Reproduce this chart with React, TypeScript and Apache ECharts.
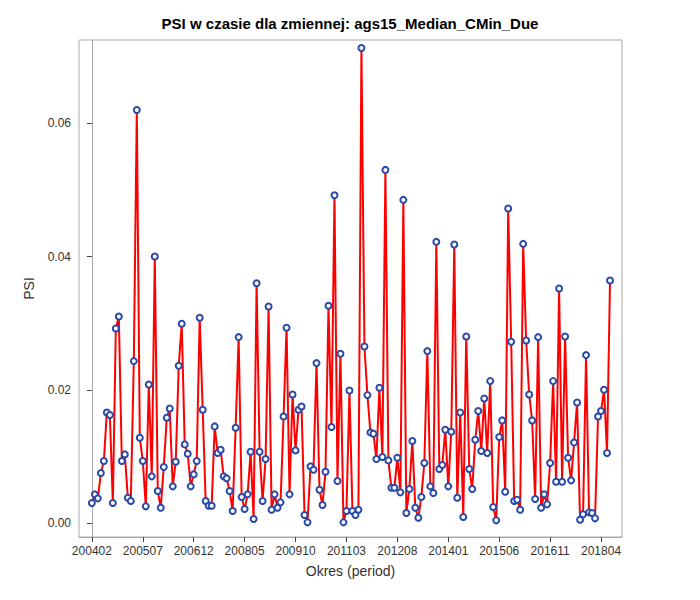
import React, { useRef, useEffect } from 'react';
import * as echarts from 'echarts';

const psi: number[] = [
  0.003, 0.0043, 0.0037, 0.0075, 0.0093, 0.0166, 0.0162, 0.003, 0.0292, 0.031,
  0.0093, 0.0103, 0.0038, 0.0033, 0.0243, 0.062, 0.0128, 0.0093, 0.0025, 0.0208,
  0.007, 0.04, 0.0048, 0.0023, 0.0084, 0.0158, 0.0172, 0.0055, 0.0092, 0.0236,
  0.0299, 0.0118, 0.0104, 0.0055, 0.0073, 0.0093, 0.0308, 0.017, 0.0033, 0.0026,
  0.0026, 0.0145, 0.0105, 0.011, 0.007, 0.0067, 0.0048, 0.0018, 0.0143, 0.0279,
  0.0039, 0.0021, 0.0043, 0.0107, 0.0006, 0.036, 0.0107, 0.0033, 0.0096, 0.0325,
  0.002, 0.0043, 0.0023, 0.0031, 0.016, 0.0293, 0.0043, 0.0193, 0.0109, 0.017,
  0.0175, 0.0012, 0.0001, 0.0085, 0.008, 0.024, 0.005, 0.0027, 0.0077, 0.0326,
  0.0144, 0.0492, 0.0063, 0.0254, 0.0001, 0.0018, 0.0199, 0.0018, 0.0012, 0.002,
  0.0713, 0.0265, 0.0192, 0.0136, 0.0134, 0.0096, 0.0203, 0.0099, 0.053, 0.0094,
  0.0053, 0.0053, 0.0098, 0.0046, 0.0485, 0.0015, 0.0051, 0.0123, 0.0023, 0.0008,
  0.0039, 0.009, 0.0258, 0.0055, 0.0045, 0.0422, 0.0081, 0.0087, 0.014, 0.0055,
  0.0137, 0.0418, 0.0038, 0.0166, 0.0009, 0.028, 0.0081, 0.0051, 0.0125, 0.0168,
  0.0108, 0.0187, 0.0105, 0.0213, 0.0024, 0.0004, 0.0129, 0.0154, 0.0047, 0.0472,
  0.0272, 0.0033, 0.0035, 0.002, 0.0419, 0.0274, 0.0193, 0.0154, 0.0036, 0.0279,
  0.0023, 0.0043, 0.0028, 0.009, 0.0213, 0.0062, 0.0352, 0.0062, 0.028, 0.0098,
  0.0064, 0.0121, 0.0181, 0.0005, 0.0013, 0.0252, 0.0016, 0.0015, 0.0007, 0.016,
  0.0168, 0.02, 0.0105, 0.0364,
];

const startYear = 2004;
const startMonth = 2;
const periods: string[] = psi.map((_, i) => {
  const m = startMonth - 1 + i;
  const y = startYear + Math.floor(m / 12);
  return `${y}${String((m % 12) + 1).padStart(2, '0')}`;
});

const xTickIdx: number[] = [0, 17, 34, 51, 68, 85, 102, 119, 136, 153, 170];
const yTicks: number[] = [0, 0.02, 0.04, 0.06];

const font = '"Liberation Sans", Arial, sans-serif';

const App: React.FC = () => {
  const chartRef = useRef<HTMLDivElement>(null);
  useEffect(() => {
    let chart: echarts.ECharts | null = null;
    if (chartRef.current) {
      chart = echarts.init(chartRef.current, null, { renderer: 'svg' });
      const option: echarts.EChartsOption = {
        animation: false,
        backgroundColor: '#fff',
        title: {
          text: 'PSI w czasie dla zmiennej: ags15_Median_CMin_Due',
          left: 'center',
          top: 11,
          textStyle: { fontFamily: font, fontSize: 15, fontWeight: 'bold', color: '#000' },
        },
        grid: { left: 79, right: 78, top: 40, bottom: 63, show: true, borderColor: '#aaa', borderWidth: 1 },
        xAxis: {
          type: 'value',
          min: -4.3,
          max: psi.length - 1 + 4,
          name: 'Okres (period)',
          nameLocation: 'middle',
          nameGap: 27,
          nameTextStyle: { fontFamily: font, fontSize: 14, color: '#333' },
          splitLine: { show: false },
          axisLine: { onZero: false, lineStyle: { color: '#aaa' } },
          axisTick: { customValues: xTickIdx, length: 5, lineStyle: { color: '#444' } },
          axisLabel: {
            customValues: xTickIdx,
            formatter: (v: number) => periods[Math.round(v)] ?? '',
            fontFamily: font,
            fontSize: 12,
            color: '#333',
          },
        },
        yAxis: {
          type: 'value',
          min: -0.0021,
          max: 0.0725,
          name: 'PSI',
          nameLocation: 'middle',
          nameGap: 43,
          nameTextStyle: { fontFamily: font, fontSize: 14, color: '#333' },
          splitLine: { show: false },
          axisLine: { show: true, lineStyle: { color: '#aaa' } },
          axisTick: { show: true, customValues: yTicks, length: 5, lineStyle: { color: '#444' } },
          axisLabel: {
            customValues: yTicks,
            formatter: (v: number) => v.toFixed(2),
            fontFamily: font,
            fontSize: 12,
            color: '#333',
          },
        },
        series: [
          {
            type: 'line',
            data: psi.map((v, i) => [i, v]),
            lineStyle: { color: '#ff0000', width: 2 },
            symbol: 'emptyCircle',
            symbolSize: 6,
            itemStyle: { color: '#2a4aa8', borderColor: '#2a4aa8', borderWidth: 1 },
            z: 3,
          },
        ],
      };
      chart.setOption(option);
    }
    return () => {
      if (chart) chart.dispose();
    };
  }, []);

  return <div ref={chartRef} style={{ width: '700px', height: '600px', margin: '-8px' }} />;
};

export default App;
